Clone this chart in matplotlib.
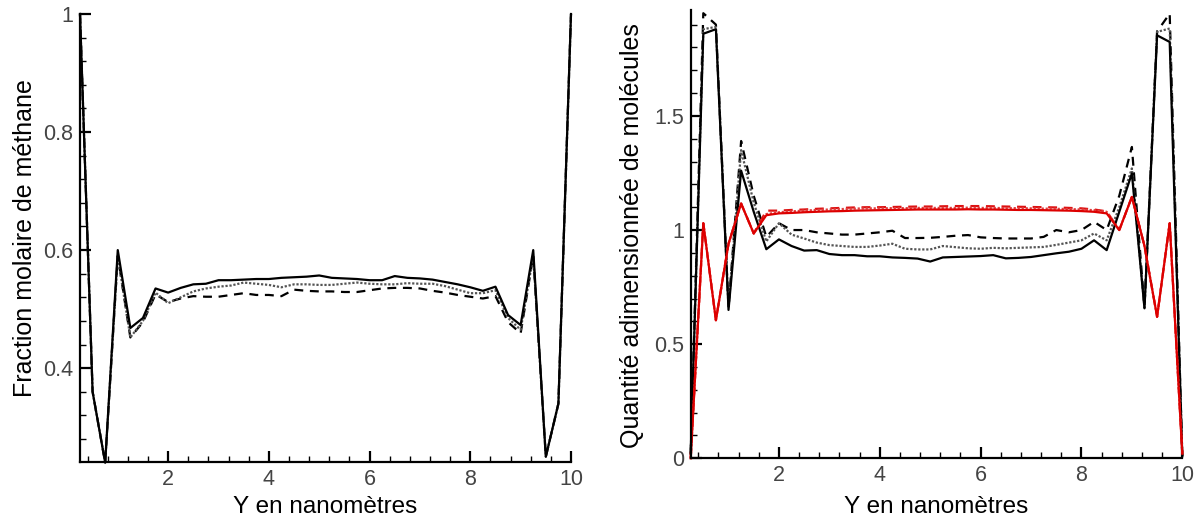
import numpy as np
import matplotlib
matplotlib.use("Agg")
import matplotlib.pyplot as plt
from matplotlib.ticker import MultipleLocator, FuncFormatter

plt.rcParams['font.family'] = ['Liberation Sans', 'DejaVu Sans']

# Positions (nm)
y_nm = [0.25, 0.5, 0.75, 1.0, 1.25, 1.5, 1.75, 2.0, 2.25, 2.5,
        2.75, 3.0, 3.25, 3.5, 3.75, 4.0, 4.25, 4.5, 4.75, 5.0,
        5.25, 5.5, 5.75, 6.0, 6.25, 6.5, 6.75, 7.0, 7.25, 7.5,
        7.75, 8.0, 8.25, 8.5, 8.75, 9.0, 9.25, 9.5, 9.75, 10.0]

# Left panel: methane mole fraction
frac_solid = [1.0, 0.36, 0.24, 0.60, 0.468, 0.485, 0.535, 0.528, 0.536, 0.542,
              0.543, 0.549, 0.549, 0.550, 0.551, 0.551, 0.553, 0.554, 0.555, 0.557,
              0.553, 0.552, 0.551, 0.549, 0.549, 0.556, 0.553, 0.552, 0.550, 0.546,
              0.542, 0.537, 0.531, 0.538, 0.490, 0.473, 0.60, 0.25, 0.34, 1.0]
frac_dotted = [1.0, 0.36, 0.24, 0.59, 0.452, 0.480, 0.528, 0.510, 0.520, 0.530,
               0.535, 0.538, 0.540, 0.545, 0.543, 0.541, 0.537, 0.542, 0.542, 0.541,
               0.541, 0.543, 0.545, 0.543, 0.542, 0.542, 0.544, 0.543, 0.543, 0.539,
               0.533, 0.527, 0.527, 0.532, 0.485, 0.465, 0.59, 0.25, 0.34, 1.0]
frac_dashed = [1.0, 0.36, 0.24, 0.59, 0.452, 0.478, 0.525, 0.512, 0.518, 0.522,
               0.521, 0.521, 0.524, 0.527, 0.524, 0.524, 0.522, 0.533, 0.531, 0.530,
               0.530, 0.529, 0.529, 0.532, 0.535, 0.536, 0.536, 0.535, 0.531, 0.528,
               0.524, 0.521, 0.518, 0.522, 0.478, 0.459, 0.59, 0.25, 0.34, 1.0]

# Right panel: dimensionless number of molecules
qty_black_solid = [0.02, 1.86, 1.88, 0.65, 1.26, 1.08, 0.916, 0.959, 0.93, 0.91,
                   0.912, 0.895, 0.89, 0.89, 0.885, 0.885, 0.88, 0.878, 0.875, 0.862,
                   0.88, 0.882, 0.884, 0.886, 0.89, 0.876, 0.878, 0.882, 0.89, 0.898,
                   0.905, 0.918, 0.955, 0.912, 1.08, 1.248, 0.657, 1.853, 1.824, 0.01]
qty_black_dotted = [0.02, 1.88, 1.89, 0.66, 1.35, 1.12, 0.95, 1.03, 0.98, 0.963,
                    0.945, 0.934, 0.93, 0.926, 0.926, 0.932, 0.94, 0.918, 0.915, 0.915,
                    0.93, 0.925, 0.92, 0.918, 0.922, 0.92, 0.922, 0.924, 0.926, 0.935,
                    0.945, 0.955, 0.985, 0.955, 1.10, 1.27, 0.66, 1.868, 1.883, 0.01]
qty_black_dashed = [0.02, 1.95, 1.90, 0.66, 1.39, 1.15, 0.97, 1.03, 1.0, 1.0,
                    0.99, 0.985, 0.98, 0.98, 0.985, 0.99, 0.997, 0.965, 0.965, 0.966,
                    0.97, 0.975, 0.978, 0.968, 0.965, 0.963, 0.963, 0.963, 0.97, 1.0,
                    0.99, 1.0, 1.036, 1.0, 1.15, 1.364, 0.66, 1.87, 1.948, 0.01]
qty_red_solid = [0.0, 1.03, 0.605, 0.94, 1.116, 0.985, 1.065, 1.073, 1.075, 1.078,
                 1.08, 1.082, 1.083, 1.085, 1.086, 1.087, 1.088, 1.089, 1.09, 1.09,
                 1.09, 1.09, 1.091, 1.09, 1.09, 1.089, 1.088, 1.088, 1.087, 1.086,
                 1.085, 1.083, 1.08, 1.073, 1.0, 1.145, 0.93, 0.62, 1.03, 0.02]
qty_red_dotted = [0.0, 1.03, 0.605, 0.94, 1.116, 0.985, 1.07, 1.078, 1.082, 1.085,
                  1.088, 1.09, 1.092, 1.094, 1.095, 1.095, 1.096, 1.096, 1.097, 1.097,
                  1.097, 1.097, 1.098, 1.097, 1.097, 1.096, 1.096, 1.095, 1.094, 1.093,
                  1.092, 1.09, 1.087, 1.08, 1.0, 1.145, 0.93, 0.62, 1.03, 0.02]
qty_red_dashed = [0.0, 1.03, 0.605, 0.94, 1.116, 0.985, 1.085, 1.085, 1.088, 1.09,
                  1.093, 1.095, 1.097, 1.099, 1.10, 1.10, 1.101, 1.102, 1.103, 1.103,
                  1.104, 1.105, 1.105, 1.105, 1.104, 1.103, 1.102, 1.101, 1.10, 1.099,
                  1.097, 1.095, 1.09, 1.082, 1.0, 1.145, 0.93, 0.62, 1.03, 0.02]

xlabel = "Y en nanomètres"
ylabel_left = "Fraction molaire de méthane"
ylabel_right = "Quantité adimensionnée de molécules"

W, H = 1202, 520
fig = plt.figure(figsize=(W / 100, H / 100), dpi=100)

def px_axes(x0, x1, ytop, ybot):
    return fig.add_axes([x0 / W, (H - ybot) / H, (x1 - x0) / W, (ybot - ytop) / H])

axL = px_axes(80, 571, 14, 462)
axR = px_axes(690.7, 1182.3, 10, 458.3)

solid_kw = dict(color='black', lw=1.6, linestyle='-', clip_on=False)
dotted_kw = dict(color='#555555', lw=1.6, linestyle=(0, (1, 0.8)), clip_on=False)
dashed_kw = dict(color='black', lw=1.6, linestyle=(0, (4, 3)), clip_on=False)

axL.plot(y_nm, frac_dashed, **dashed_kw)
axL.plot(y_nm, frac_dotted, **dotted_kw)
axL.plot(y_nm, frac_solid, **solid_kw)

axR.plot(y_nm, qty_black_dashed, **dashed_kw)
axR.plot(y_nm, qty_black_dotted, **dotted_kw)
axR.plot(y_nm, qty_black_solid, **solid_kw)
axR.plot(y_nm, qty_red_dashed, color='#dd1111', lw=1.6, linestyle=(0, (4, 3)), clip_on=False)
axR.plot(y_nm, qty_red_dotted, color='#e04040', lw=1.6, linestyle=(0, (1, 0.8)), clip_on=False)
axR.plot(y_nm, qty_red_solid, color='#dd0000', lw=1.6, linestyle='-', clip_on=False)

axL.set_xlim(0.25, 10)
axL.set_ylim(0.241, 1.0)
axR.set_xlim(0.25, 10)
axR.set_ylim(0, 1.964)

axL.yaxis.set_major_locator(MultipleLocator(0.2))
axL.yaxis.set_minor_locator(MultipleLocator(0.04))
axR.yaxis.set_major_locator(MultipleLocator(0.5))
axR.yaxis.set_minor_locator(MultipleLocator(0.1))

fmt = FuncFormatter(lambda v, p: ('%g' % round(v, 6)))
for ax in (axL, axR):
    ax.xaxis.set_major_locator(MultipleLocator(2))
    ax.xaxis.set_minor_locator(MultipleLocator(0.4))
    ax.xaxis.set_major_formatter(fmt)
    ax.yaxis.set_major_formatter(fmt)
    for s in ('top', 'right'):
        ax.spines[s].set_visible(False)
    for s in ('left', 'bottom'):
        ax.spines[s].set_linewidth(1.6)
    ax.tick_params(which='major', direction='in', length=8, width=1.6,
                   labelsize=15.5, labelcolor='#444444', pad=5)
    ax.tick_params(which='minor', direction='in', length=4.5, width=1.0)

axL.set_xlabel(xlabel, fontsize=17.5)
axR.set_xlabel(xlabel, fontsize=17.5)
axL.xaxis.set_label_coords(325.5 / W, (H - 513) / H, transform=fig.transFigure)
axR.xaxis.set_label_coords(936.5 / W, (H - 513) / H, transform=fig.transFigure)
axL.xaxis.label.set_va('baseline')
axR.xaxis.label.set_va('baseline')

axL.set_ylabel(ylabel_left, fontsize=18)
axR.set_ylabel(ylabel_right, fontsize=18)
axL.yaxis.set_label_coords(25 / W, (H - 238) / H, transform=fig.transFigure)
axR.yaxis.set_label_coords(632 / W, (H - 236) / H, transform=fig.transFigure)
axL.yaxis.label.set_va('center')
axR.yaxis.label.set_va('center')

fig.savefig("out.png", dpi=100)
